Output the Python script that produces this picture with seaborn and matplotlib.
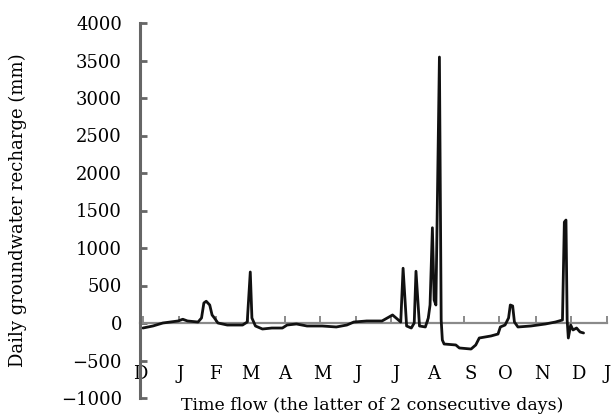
import matplotlib
matplotlib.use("Agg")
import matplotlib.pyplot as plt
import seaborn as sns
import pandas as pd

# ---- data (days since 1 Dec; daily recharge in mm) ----
days = [0, 8.5, 17, 30, 34, 38, 47, 50, 52, 54, 57, 59, 61, 64, 72, 85, 89,
        91.6, 93, 96, 102, 110, 119, 123, 131, 140, 153, 165, 174, 180, 191,
        204, 210, 213, 216, 220, 222, 225, 229, 231.5, 233, 236, 241, 243.5,
        245, 247, 248.5, 250, 253, 254.5, 255.5, 257, 267, 270, 280, 284, 287,
        297, 303, 305, 309, 312, 313.5, 315.5, 317, 320, 331, 343.5, 352, 358,
        359.6, 361, 362, 363, 365, 367, 370, 373, 376]
recharge = [-67, -40, 0, 27, 50, 27, 13, 67, 267, 290, 240, 107, 67, 0, -27,
            -27, 13, 680, 67, -40, -80, -67, -67, -27, -13, -40, -40, -53, -27,
            13, 27, 27, 80, 107, 67, 13, 730, -40, -67, 0, 690, -40, -53, 67,
            240, 1270, 307, 240, 3546, 40, -227, -280, -293, -333, -347, -293,
            -200, -173, -147, -53, -27, 67, 240, 227, 13, -53, -40, -13, 13, 40,
            1346, 1373, 40, -200, -27, -93, -67, -120, -133]

month_ticks = [0, 31, 62, 90, 121, 151, 182, 212, 243, 274, 304, 335, 365, 396]
label_pos = [-2.5, 31.4, 61.9, 91.6, 121.3, 153.5, 184, 216, 248.1, 279.6,
             309.3, 340.7, 371.2, 395.8]
month_labels = ["D", "J", "F", "M", "A", "M", "J", "J", "A", "S", "O", "N", "D", "J"]
y_ticks = [-1000, -500, 0, 500, 1000, 1500, 2000, 2500, 3000, 3500, 4000]

df = pd.DataFrame({"day": days, "recharge": recharge})

sns.set_style("white")
plt.rcParams["font.family"] = ["DejaVu Serif"]
plt.rcParams["font.size"] = 13
plt.rcParams["text.color"] = "black"
plt.rcParams["xtick.color"] = "black"
plt.rcParams["ytick.color"] = "black"

fig = plt.figure(figsize=(6.16, 4.17), dpi=100)
ax = fig.add_axes([140 / 616, 1 - 398 / 417, (607 - 140) / 616, (398 - 23) / 417])

sns.lineplot(data=df, x="day", y="recharge", ax=ax, estimator=None,
             color="#111111", linewidth=2.0)

ax.set_xlim(0, 396)
ax.set_ylim(-1000, 4000)

for s in ["top", "right"]:
    ax.spines[s].set_visible(False)
ax.spines["bottom"].set_position(("data", 0))
ax.spines["bottom"].set_color("#8a8a8a")
ax.spines["bottom"].set_linewidth(1.6)
ax.spines["left"].set_color("#666666")
ax.spines["left"].set_linewidth(2.2)
ax.spines["bottom"].set_zorder(1)

ax.set_yticks(y_ticks)
ax.set_yticklabels([str(v).replace("-", "\u2212") for v in y_ticks])
ax.tick_params(axis="y", left=True, direction="in", length=5, width=2,
               color="#666666", labelcolor="black", pad=13, labelsize=13)

ax.set_xticks(month_ticks, minor=True)
ax.set_xticks(label_pos)
ax.set_xticklabels(month_labels)
ax.tick_params(axis="x", which="minor", bottom=True, direction="in", length=5,
               width=1.4, color="#8a8a8a")
ax.tick_params(axis="x", which="major", bottom=True, length=0, pad=30,
               labelsize=13, labelcolor="black")

ax.set_xlabel("")
ax.set_ylabel("")
fig.text(18 / 616, 1 - 210 / 417, "Daily groundwater recharge (mm)",
         rotation=90, ha="center", va="center", fontsize=13, color="black")
fig.text(372 / 616, 1 - 405 / 417, "Time flow (the latter of 2 consecutive days)",
         ha="center", va="center", fontsize=12.5, color="black")

fig.savefig("out.png", dpi=100)
